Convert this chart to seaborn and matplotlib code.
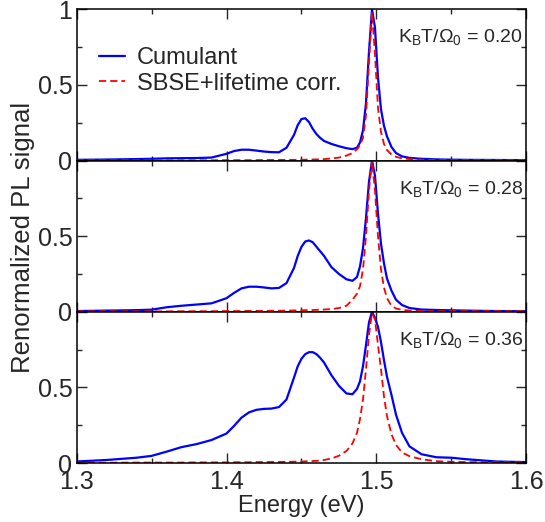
import matplotlib
matplotlib.use("Agg")
from matplotlib import pyplot as plt
from matplotlib.ticker import MultipleLocator
import seaborn as sns

# energy grid (eV), denser near the peaks
energy = [1.30, 1.32, 1.34, 1.35, 1.36, 1.37, 1.38, 1.39, 1.40, 1.405,
          1.41, 1.415, 1.42, 1.425, 1.43, 1.435, 1.44, 1.445, 1.4475, 1.45,
          1.4525, 1.455, 1.4575, 1.46, 1.4625, 1.465, 1.47, 1.475, 1.48, 1.484,
          1.487, 1.489, 1.491, 1.493, 1.495, 1.497, 1.499, 1.501, 1.503, 1.505,
          1.507, 1.51, 1.513, 1.517, 1.522, 1.53, 1.54, 1.55, 1.56, 1.58, 1.60]

# KBT/Omega0 = 0.20
cum_020 = [0.005, 0.007, 0.010, 0.012, 0.015, 0.016, 0.017, 0.020, 0.045, 0.063,
           0.072, 0.072, 0.066, 0.060, 0.056, 0.055, 0.085, 0.170, 0.235, 0.275,
           0.280, 0.255, 0.210, 0.175, 0.150, 0.130, 0.110, 0.095, 0.082, 0.076,
           0.085, 0.120, 0.200, 0.380, 0.720, 1.000, 0.880, 0.550, 0.340, 0.230,
           0.160, 0.090, 0.050, 0.028, 0.018, 0.012, 0.008, 0.006, 0.005, 0.004, 0.003]
sbse_020 = [0.002, 0.002, 0.002, 0.002, 0.002, 0.002, 0.002, 0.002, 0.003, 0.003,
            0.003, 0.003, 0.003, 0.004, 0.004, 0.004, 0.005, 0.005, 0.005, 0.006,
            0.006, 0.007, 0.007, 0.008, 0.009, 0.010, 0.014, 0.020, 0.033, 0.050,
            0.075, 0.100, 0.150, 0.300, 0.650, 0.980, 0.700, 0.350, 0.190, 0.110,
            0.070, 0.040, 0.025, 0.015, 0.010, 0.006, 0.004, 0.003, 0.003, 0.003, 0.003]

# KBT/Omega0 = 0.28
cum_028 = [0.005, 0.008, 0.011, 0.014, 0.030, 0.040, 0.048, 0.056, 0.090, 0.125,
           0.155, 0.166, 0.166, 0.161, 0.155, 0.158, 0.190, 0.290, 0.370, 0.430,
           0.465, 0.472, 0.460, 0.430, 0.400, 0.370, 0.295, 0.250, 0.215, 0.205,
           0.230, 0.300, 0.420, 0.620, 0.860, 1.000, 0.900, 0.650, 0.450, 0.320,
           0.220, 0.140, 0.080, 0.045, 0.025, 0.015, 0.012, 0.010, 0.008, 0.005, 0.004]
sbse_028 = [0.003, 0.003, 0.003, 0.003, 0.003, 0.004, 0.004, 0.004, 0.005, 0.005,
            0.005, 0.006, 0.006, 0.006, 0.007, 0.007, 0.008, 0.009, 0.0095, 0.010,
            0.0105, 0.011, 0.012, 0.013, 0.014, 0.015, 0.018, 0.025, 0.040, 0.080,
            0.120, 0.170, 0.280, 0.500, 0.800, 1.000, 0.800, 0.500, 0.280, 0.160,
            0.090, 0.040, 0.022, 0.013, 0.008, 0.005, 0.004, 0.004, 0.004, 0.004, 0.004]

# KBT/Omega0 = 0.36
cum_036 = [0.010, 0.020, 0.035, 0.047, 0.075, 0.105, 0.125, 0.152, 0.195, 0.245,
           0.300, 0.335, 0.352, 0.358, 0.360, 0.370, 0.420, 0.565, 0.640, 0.690,
           0.720, 0.733, 0.733, 0.720, 0.695, 0.665, 0.580, 0.510, 0.460, 0.455,
           0.490, 0.540, 0.640, 0.780, 0.930, 1.000, 0.960, 0.900, 0.800, 0.680,
           0.570, 0.450, 0.320, 0.200, 0.110, 0.058, 0.038, 0.035, 0.025, 0.010, 0.006]
sbse_036 = [0.002, 0.002, 0.003, 0.003, 0.003, 0.003, 0.004, 0.004, 0.004, 0.005,
            0.005, 0.005, 0.006, 0.006, 0.007, 0.007, 0.008, 0.009, 0.0095, 0.010,
            0.011, 0.012, 0.013, 0.014, 0.017, 0.020, 0.030, 0.048, 0.080, 0.130,
            0.200, 0.290, 0.420, 0.620, 0.850, 0.990, 0.950, 0.780, 0.620, 0.440,
            0.310, 0.190, 0.120, 0.070, 0.045, 0.025, 0.012, 0.008, 0.006, 0.005, 0.005]

temps = ["0.20", "0.28", "0.36"]
panels = [(cum_020, sbse_020), (cum_028, sbse_028), (cum_036, sbse_036)]

sns.set_style("ticks")
plt.rcParams['font.family'] = ['Liberation Sans', 'DejaVu Sans']
plt.rcParams['mathtext.default'] = 'regular'

fig, axes = plt.subplots(nrows=3, ncols=1, sharex=True, figsize=(5.45, 5.22), dpi=100)
fig.subplots_adjust(left=0.1404, right=0.966, top=0.982, bottom=0.113, hspace=0)

for i, (cum, sbse) in enumerate(panels):
    ax = axes[i]
    sns.lineplot(x=energy, y=cum, ax=ax, color='#0000ff', linewidth=1.6,
                 label='Cumulant' if i == 0 else None)
    sns.lineplot(x=energy, y=sbse, ax=ax, color='#ff0000', linewidth=1.3,
                 linestyle=(0, (4, 2.2)), label='SBSE+lifetime corr.' if i == 0 else None)
    ax.set_xlim(1.3, 1.6)
    ax.set_ylim(0, 1.0)
    ax.set_yticks([0, 0.5, 1])
    ax.set_yticklabels(['0', '0.5', '1'] if i == 0 else ['0', '0.5', ''])
    ax.yaxis.set_minor_locator(MultipleLocator(0.25))
    ax.set_xticks([1.3, 1.4, 1.5, 1.6])
    ax.set_xticks([1.35, 1.45, 1.55], minor=True)
    ax.tick_params(which='both', direction='in', top=True, right=True, width=1, labelsize=18, pad=3)
    ax.tick_params(which='major', length=7.5)
    ax.tick_params(which='minor', length=3.8)
    for s in ax.spines.values():
        s.set_linewidth(1.1)
        s.set_color('black')
    ax.text(0.992, 0.815, r'K$_{B}$T/Ω$_{0}$ = ' + temps[i], transform=ax.transAxes,
            ha='right', va='center', fontsize=14)
    if i == 0:
        ax.legend(loc='upper left', bbox_to_anchor=(0.05, 0.75), frameon=False,
                  fontsize=17, handlelength=1.1, handletextpad=0.5, labelspacing=0.15,
                  borderpad=0, borderaxespad=0)
    elif ax.get_legend():
        ax.get_legend().remove()

axes[2].set_xticklabels(['1.3', '1.4', '1.5', '1.6'])
axes[2].tick_params(axis='x', pad=5)
axes[2].set_xlabel('Energy (eV)', fontsize=17, labelpad=1)
fig.text(0.042, 0.545, 'Renormalized PL signal', rotation=90, ha='center', va='center', fontsize=18.5)

plt.savefig('out.png', dpi=100)
